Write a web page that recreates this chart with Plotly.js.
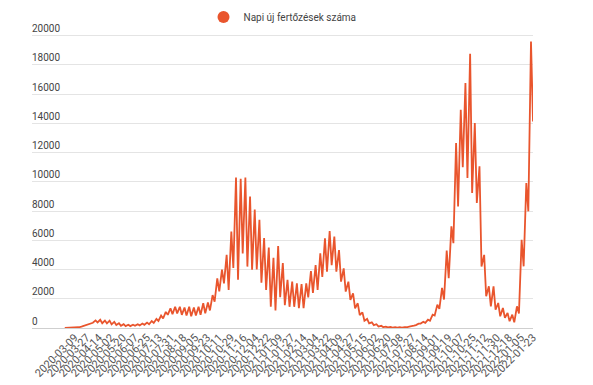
<!DOCTYPE html>
<html>
<head>
<meta charset="utf-8">
<script src="https://cdn.plot.ly/plotly-3.0.1.min.js"></script>
<style>
html,body{margin:0;padding:0;background:#fff;}
#chart{width:593px;height:385px;}
</style>
</head>
<body>
<div id="chart"></div>
<script>
// Week anchor (Sunday) for the series; each week has a low (Sunday) and a high (Thursday) reading
const seriesName = 'Napi új fertőzések száma';
const firstSunday = '2020-02-23';

// Sunday values, weeks 0..100 (last = 2022-01-23)
const weeklyLow = [
  0, 3, 10, 50, 140, 250, 360, 380, 330, 320,
  250, 200, 150, 130, 130, 150, 180, 220, 260, 350,
  480, 650, 900, 950, 1000, 900, 850, 800, 850, 900,
  1000, 1200, 1800, 2500, 3050, 2600, 4100, 3300, 5100, 4200,
  3980, 4000, 3100, 2600, 1450, 1200, 2100, 1560, 1450, 1450,
  1350, 1350, 2100, 2400, 2600, 3500, 3850, 4300, 3850, 3170,
  2490, 1920, 1350, 890, 500, 320, 200, 100, 60, 40,
  30, 30, 30, 50, 100, 200, 300, 350, 500, 850,
  1300, 1950, 3400, 5800, 8320, 11000, 10260, 9230, 8550, 4200,
  2170, 1480, 1250, 800, 700, 460, 390, 1000, 4220, 7980,
  14130
];
// Thursday values, weeks 0..99
const weeklyHigh = [
  3, 6, 30, 90, 220, 350, 520, 560, 510, 500,
  420, 330, 260, 220, 220, 260, 310, 370, 480, 620,
  850, 1100, 1350, 1450, 1450, 1400, 1450, 1400, 1450, 1700,
  1750, 2250, 3400, 4000, 5000, 6600, 10300, 10200, 10300, 9000,
  8100, 7400, 6150, 5500, 4800, 5600, 4450, 3300, 3170, 3060,
  3000, 3050, 3900, 4300, 5100, 6130, 6630, 6250, 5330, 4080,
  3170, 2370, 1690, 1070, 620, 390, 260, 150, 90, 70,
  60, 50, 60, 90, 160, 300, 420, 570, 910, 1600,
  2740, 5300, 6950, 12650, 14930, 16760, 18760, 14020, 11060, 5000,
  2850, 2850, 1710, 1370, 1030, 910, 1480, 6040, 9920, 19600
];

const tickLabels = [
  '2020-03-09','2020-03-27','2020-04-14','2020-05-02','2020-05-20','2020-06-07',
  '2020-06-25','2020-07-13','2020-07-31','2020-08-18','2020-09-05','2020-09-23',
  '2020-10-11','2020-10-29','2020-11-16','2020-12-04','2020-12-22','2021-01-09',
  '2021-01-27','2021-02-14','2021-03-04','2021-03-22','2021-04-09','2021-04-27',
  '2021-05-15','2021-06-02','2021-06-20','2021-07-08','2021-07-27','2021-08-14',
  '2021-09-01','2021-09-19','2021-10-07','2021-10-25','2021-11-12','2021-11-30',
  '2021-12-18','2022-01-05','2022-01-23'
];
const yTicks = [0, 2000, 4000, 6000, 8000, 10000, 12000, 14000, 16000, 18000, 20000];

function addDays(s, n) {
  const d = new Date(s + 'T00:00:00Z');
  d.setUTCDate(d.getUTCDate() + n);
  return d.toISOString().slice(0, 10);
}

const xs = [], ys = [];
for (let i = 0; i < weeklyLow.length; i++) {
  xs.push(addDays(firstSunday, 7 * i)); ys.push(weeklyLow[i]);
  if (i < weeklyHigh.length) { xs.push(addDays(firstSunday, 7 * i + 4)); ys.push(weeklyHigh[i]); }
}

const color = '#e9552d';
const traces = [
  { x: xs, y: ys, type: 'scatter', mode: 'lines', name: seriesName, showlegend: false,
    line: { color: color, width: 1.8 }, hoverinfo: 'x+y' },
  { x: [null], y: [null], type: 'scatter', mode: 'markers', name: seriesName,
    marker: { color: color, size: 12, symbol: 'circle' } }
];

const layout = {
  width: 593, height: 385,
  margin: { l: 32, r: 60, t: 21, b: 57, autoexpand: false },
  paper_bgcolor: '#fff', plot_bgcolor: '#fff',
  font: { family: 'Roboto, Arial, sans-serif', size: 11, color: '#555' },
  showlegend: true,
  legend: { orientation: 'h', x: 0.5, xanchor: 'center', xref: 'paper',
            y: 1 - 17 / 385, yanchor: 'middle', yref: 'container',
            font: { size: 10, color: '#444' }, itemwidth: 30, bgcolor: 'rgba(0,0,0,0)' },
  xaxis: {
    type: 'date', range: ['2020-01-05', '2022-01-23'],
    tickmode: 'array', tickvals: tickLabels, ticktext: tickLabels,
    tickangle: -45, showgrid: false, zeroline: false, showline: false, automargin: false,
    ticks: '', tickfont: { size: 11, color: '#555' }, fixedrange: true
  },
  yaxis: {
    range: [0, 21000], tickmode: 'array', tickvals: yTicks, tickformat: 'd', automargin: false,
    ticklabelposition: 'inside top', ticklabelstandoff: -3,
    showgrid: true, gridcolor: '#e4e4e4', gridwidth: 1,
    zeroline: true, zerolinecolor: '#cfcfcf', zerolinewidth: 1, showline: false,
    ticks: '', tickfont: { size: 10, color: '#444' }, fixedrange: true
  }
};

Plotly.newPlot('chart', traces, layout, { displayModeBar: false, staticPlot: true });
</script>
</body>
</html>
